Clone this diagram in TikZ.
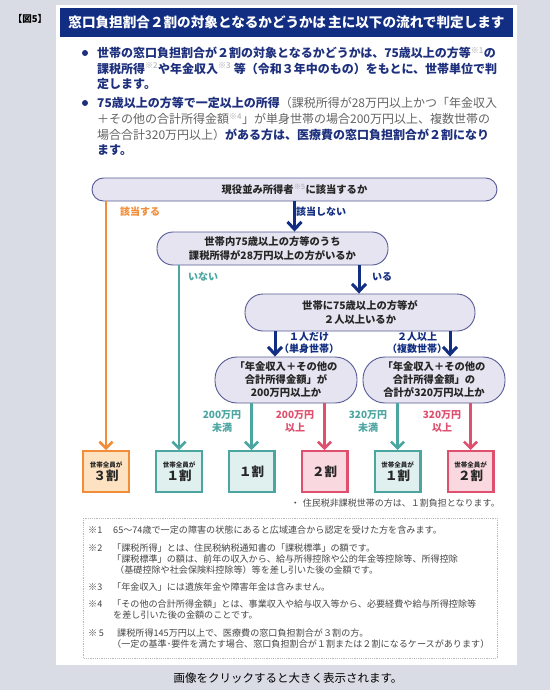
\documentclass[tikz,border=0pt]{standalone}
\usepackage{fontspec}
\setmainfont{Noto Sans CJK JP}
\usetikzlibrary{arrows.meta}
\definecolor{pagebg}{RGB}{217,220,228}
\definecolor{navy}{RGB}{18,46,130}
\definecolor{ink}{RGB}{30,48,125}
\definecolor{qfill}{RGB}{229,228,240}
\definecolor{qline}{RGB}{88,92,150}
\definecolor{org}{RGB}{242,140,56}
\definecolor{orgfill}{RGB}{253,226,194}
\definecolor{tealc}{RGB}{75,165,160}
\definecolor{tealfill}{RGB}{223,240,239}
\definecolor{pinkc}{RGB}{222,80,110}
\definecolor{pinkfill}{RGB}{249,216,224}
\definecolor{greytxt}{RGB}{100,100,100}
\definecolor{notetxt}{RGB}{70,70,70}
\newcommand\fs[2]{\fontsize{#1}{#2}\selectfont}
\newcommand\sref[1]{\textsuperscript{\mdseries\color{gray!70}※#1}}
\begin{document}
\begin{tikzpicture}[x=1pt,y=-1pt,
  qbox/.style={draw=qline, fill=qfill, line width=0.9pt, align=center, inner sep=0pt,
    font=\fs{10.3}{13.5}\bfseries, text=black!85},
  resbox/.style={line width=2.4pt, minimum width=45.6pt, minimum height=40.6pt, inner sep=0pt, align=center, text=black!85},
  arr/.style={line width=2.6pt, -{Straight Barb[length=6.5pt,width=13pt]}},
  narr/.style={line width=3pt, draw=navy, -{Straight Barb[length=7.5pt,width=14pt]}},
  lbl/.style={font=\fs{10}{13}\bfseries, align=center, inner sep=0pt},
  bline/.style={anchor=base west, inner sep=0pt, font=\fs{12}{14}},
  fline/.style={anchor=base west, inner sep=0pt, font=\fs{9.1}{11}, text=notetxt},
  bdot/.style={circle, fill=ink, inner sep=0pt, minimum size=6pt}]
\useasboundingbox (0,0) rectangle (550,690);
\fill[pagebg] (0,0) rectangle (550,690);
\fill[white] (56,5) rectangle (517,665);
% header
\node[font=\fs{9.5}{11}\bfseries, inner sep=0pt] (figlab) at (30,19) {【図5】};
\node[fill=navy, minimum width=453pt, minimum height=29pt, inner sep=0pt, text=white,
  font=\fs{13.6}{15}\bfseries] (title) at (286.5,22.5) {窓口負担割合２割の対象となるかどうかは\,主に以下の流れで判定します};
% bullets
\node[bdot] (d1) at (85,53) {};
\node[bdot] (d2) at (85,103) {};
\node[bline, text=ink] (b1) at (97,57.7) {\bfseries 世帯の窓口負担割合が２割の対象となるかどうかは、75歳以上の方等\sref{1}の};
\node[bline, text=ink] (b2) at (97,73.2) {\bfseries 課税所得\sref{2}や年金収入\sref{3} 等（令和３年中のもの）をもとに、世帯単位で判};
\node[bline, text=ink] (b3) at (97,88.7) {\bfseries 定します。};
\node[bline] (b4) at (97,107.7) {{\color{ink}\bfseries 75歳以上の方等で一定以上の所得}{\color{greytxt}（課税所得が28万円以上かつ「年金収入}};
\node[bline, text=greytxt] (b5) at (97,123.4) {＋その他の合計所得金額\sref{4}」が単身世帯の場合200万円以上、複数世帯の};
\node[bline] (b6) at (97,139.1) {{\color{greytxt}場合合計320万円以上）}{\color{ink}\bfseries がある方は、医療費の窓口負担割合が２割になり}};
\node[bline, text=ink] (b7) at (97,154.8) {\bfseries ます。};
% question boxes
\node[qbox, minimum width=405pt, minimum height=23pt, rounded corners=11.5pt] (q1) at (294.5,189.5) {現役並み所得者\sref{5}に該当するか};
\node[qbox, minimum width=231pt, minimum height=33pt, rounded corners=16pt] (q2) at (272.5,248.5) {世帯内75歳以上の方等のうち\\課税所得が28万円以上の方がいるか};
\node[qbox, minimum width=230pt, minimum height=37pt, rounded corners=18pt, font=\fs{10.3}{14}\bfseries] (q3) at (360,312.5) {世帯に75歳以上の方等が\\２人以上いるか};
\node[qbox, minimum width=142pt, minimum height=46pt, rounded corners=22pt, font=\fs{10.3}{13}\bfseries] (q4a) at (286,380) {「年金収入＋その他の\\合計所得金額」が\\200万円以上か};
\node[qbox, minimum width=142pt, minimum height=46pt, rounded corners=22pt, font=\fs{10.3}{13}\bfseries] (q4b) at (434,380) {「年金収入＋その他の\\合計所得金額」の\\合計が320万円以上か};
% result boxes
\node[resbox, draw=org, fill=orgfill] (rA) at (106,471.5) {{\fs{6.5}{8}\bfseries 世帯全員が}\\[1pt]{\fs{12.5}{14}\bfseries ３割}};
\node[resbox, draw=tealc, fill=tealfill] (rB) at (179,471.5) {{\fs{6.5}{8}\bfseries 世帯全員が}\\[1pt]{\fs{12.5}{14}\bfseries １割}};
\node[resbox, draw=tealc, fill=tealfill, font=\fs{12.5}{14}\bfseries] (rC) at (251.5,471.5) {１割};
\node[resbox, draw=pinkc, fill=pinkfill, font=\fs{12.5}{14}\bfseries] (rD) at (324.5,471.5) {２割};
\node[resbox, draw=tealc, fill=tealfill] (rE) at (397.5,471.5) {{\fs{6.5}{8}\bfseries 世帯全員が}\\[1pt]{\fs{12.5}{14}\bfseries １割}};
\node[resbox, draw=pinkc, fill=pinkfill] (rF) at (470.5,471.5) {{\fs{6.5}{8}\bfseries 世帯全員が}\\[1pt]{\fs{12.5}{14}\bfseries ２割}};
% connectors
\draw[arr, draw=org] (rA.north |- q1.south) -- (rA.north);
\draw[narr] (q1.south) -- (q2.north -| q1.south);
\draw[arr, draw=tealc] (rB.north |- q2.south) -- (rB.north);
\coordinate (c2) at (359,0);
\draw[narr] (c2 |- q2.south) -- (c2 |- q3.north);
\coordinate (c3a) at (275,0);
\coordinate (c3b) at (450,0);
\draw[narr] (c3a |- q3.south) -- (c3a |- q4a.north);
\draw[narr] (c3b |- q3.south) -- (c3b |- q4b.north);
\draw[arr, draw=tealc] (rC.north |- q4a.south) -- (rC.north);
\draw[arr, draw=pinkc] (rD.north |- q4a.south) -- (rD.north);
\draw[arr, draw=tealc] (rE.north |- q4b.south) -- (rE.north);
\draw[arr, draw=pinkc] (rF.north |- q4b.south) -- (rF.north);
% labels
\node[lbl, text=org] (l1) at (140,212) {該当する};
\node[lbl, text=navy, anchor=west] (l2) at (296,212) {該当しない};
\node[lbl, text=tealc] (l3) at (203,277) {いない};
\node[lbl, text=navy, anchor=west] (l4) at (372,277) {いる};
\node[lbl, text=navy, font=\fs{10}{12.5}\bfseries] (l5) at (309,343) {１人だけ\\（単身世帯）};
\node[lbl, text=navy, font=\fs{10}{12.5}\bfseries] (l6) at (417,343) {２人以上\\（複数世帯）};
\node[lbl, text=tealc] (l7) at (222,421.5) {200万円\\未満};
\node[lbl, text=pinkc] (l8) at (295,421.5) {200万円\\以上};
\node[lbl, text=tealc] (l9) at (368,421.5) {320万円\\未満};
\node[lbl, text=pinkc] (l10) at (442,421.5) {320万円\\以上};
% note
\node[anchor=east, inner sep=0pt, font=\fs{9}{11}, text=notetxt] (note) at (500,503) {・\hspace{3pt}住民税非課税世帯の方は、１割負担となります。};
% footnotes
\draw[gray!55, line width=0.6pt, dash pattern=on 1.2pt off 1pt] (83,518) rectangle (497,658);
\node[fline] (m1) at (88,533.5) {※1};
\node[fline] (f1) at (113,533.5) {65～74歳で一定の障害の状態にあると広域連合から認定を受けた方を含みます。};
\node[fline] (m2) at (88,551.5) {※2};
\node[fline] (f2) at (112,551.5) {「課税所得」とは、住民税納税通知書の「課税標準」の額です。};
\node[fline] (f2b) at (112,562.5) {「課税標準」の額は、前年の収入から、給与所得控除や公的年金等控除等、所得控除};
\node[fline] (f2c) at (115,573) {（基礎控除や社会保険料控除等）等を差し引いた後の金額です。};
\node[fline] (m3) at (88,590.5) {※3};
\node[fline] (f3) at (112,590.5) {「年金収入」には遺族年金や障害年金は含みません。};
\node[fline] (m4) at (88,607.5) {※4};
\node[fline] (f4) at (112,607.5) {「その他の合計所得金額」とは、事業収入や給与収入等から、必要経費や給与所得控除等};
\node[fline] (f4b) at (113,618.5) {を差し引いた後の金額のことです。};
\node[fline] (m5) at (88,636.5) {※\,5};
\node[fline] (f5) at (117,636.5) {課税所得145万円以上で、医療費の窓口負担割合が３割の方。};
\node[fline] (f5b) at (112,647.5) {（一定の基準･要件を満たす場合、窓口負担割合が１割または２割になるケースがあります）};
% caption
\node[inner sep=0pt, font=\fs{11.5}{13}] (cap) at (288,678) {画像をクリックすると大きく表示されます。};
\end{tikzpicture}
\end{document}
